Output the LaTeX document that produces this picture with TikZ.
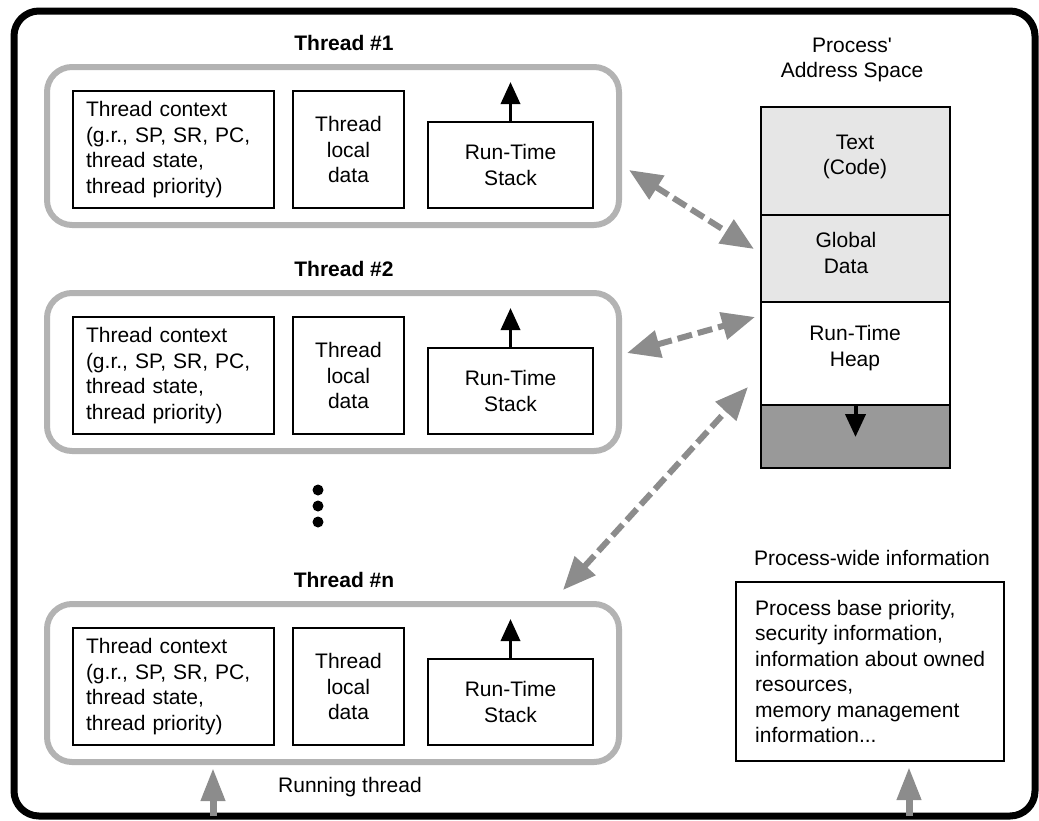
\documentclass[tikz,border=0pt]{standalone}
\usepackage{fontspec}
\setmainfont{Liberation Sans}
\usetikzlibrary{arrows.meta}

\definecolor{framegray}{HTML}{B3B3B3}
\definecolor{arrowgray}{HTML}{8C8C8C}
\definecolor{codegray}{HTML}{E6E6E6}
\definecolor{freegray}{HTML}{999999}

\tikzset{
  outerframe/.style={draw=black, line width=7pt, rounded corners=25pt, inner sep=0pt},
  threadbox/.style={draw=framegray, line width=6pt, rounded corners=25pt, inner sep=0pt},
  plainbox/.style={draw=black, line width=2pt, inner sep=0pt, align=center},
  ctxbox/.style={draw=black, line width=2pt, inner ysep=0pt, inner xsep=13pt,
    text width=175pt, align=left},
  segment/.style={draw=black, line width=2.5pt, inner sep=0pt,
    minimum width=189pt},
  titletext/.style={font=\fontsize{21}{25.5}\selectfont\bfseries},
  plaintext/.style={align=center, inner sep=0pt},
  growarrow/.style={draw=black, line width=3.5pt,
    -{Triangle[length=22pt, width=19pt]}},
  shareline/.style={draw=arrowgray, line width=6pt, dash pattern=on 15pt off 6pt,
    {Triangle[length=33pt, width=27pt]}-{Triangle[length=33pt, width=27pt]}},
  entryarrow/.style={draw=arrowgray, line width=7pt,
    -{Triangle[length=33pt, width=23pt]}},
  dotmark/.style={circle, fill=black, minimum size=11pt, inner sep=0pt},
}

% one thread: #1 name, #2 top edge of the grey frame, #3 title
\newcommand\threadunit[3]{%
  \node[threadbox, minimum width=572pt, minimum height=158pt] (#1) at (333,#2+79) {};
  \node[titletext] (#1title) at (344,#2-24) {#3};
  \node[ctxbox, minimum height=117pt] (#1ctx) at (173.5,#2+82.5)
    {Thread context\\(g.r., SP, SR, PC,\\thread state,\\thread priority)};
  \node[plainbox, minimum width=111pt, minimum height=117pt] (#1local) at (348.5,#2+82.5)
    {Thread\\local\\data};
  \node[plainbox, minimum width=165pt, minimum height=86pt] (#1stack) at (510.5,#2+98)
    {Run-Time\\Stack};
  \coordinate (#1grow) at (510.5,#2+15);
  \draw[growarrow] (#1stack.north) -- (#1grow);
}

\begin{document}
\begin{tikzpicture}[x=1pt, y=-1pt, font=\fontsize{21}{25.5}\selectfont]
  \useasboundingbox (0,0) rectangle (1039,820);

  % outer process frame
  \node[outerframe, minimum width=1021pt, minimum height=805pt] (frame) at (524.5,413.5) {};

  % threads
  \threadunit{thA}{67}{Thread \#1}
  \threadunit{thB}{293}{Thread \#2}
  \threadunit{thN}{604}{Thread \#n}

  % ellipsis between the threads
  \node[dotmark] (dotA) at (318,490) {};
  \node[dotmark] (dotB) at (318,506) {};
  \node[dotmark] (dotC) at (318,522) {};

  % address space column
  \node[plaintext] (astitle) at (852,60) {Process\textquotesingle\\Address Space};
  \node[segment, fill=codegray, minimum height=108pt] (codeseg) at (855.5,161) {};
  \node[segment, fill=codegray, minimum height=87pt] (dataseg) at (855.5,258.5) {};
  \node[segment, fill=white, minimum height=103pt] (heapseg) at (855.5,353.5) {};
  \node[segment, fill=freegray, minimum height=63pt] (freeseg) at (855.5,436.5) {};
  \node[plaintext] (codetxt) at (855,157) {Text\\(Code)};
  \node[plaintext] (datatxt) at (846,253) {Global\\Data};
  \node[plaintext] (heaptxt) at (855,348) {Run-Time\\Heap};
  \coordinate (heapgrow) at (855.5,437);
  \draw[growarrow, line width=4pt, -{Triangle[length=23pt, width=20pt]}]
    (heapseg.south) -- (heapgrow);

  % shared access between threads and address space
  \coordinate (shAs) at (629,170);  \coordinate (shAe) at (754,249);
  \coordinate (shBs) at (627,353);  \coordinate (shBe) at (755,317);
  \coordinate (shNs) at (563,590);  \coordinate (shNe) at (748,387);
  \draw[shareline] (shAs) -- (shAe);
  \draw[shareline] (shBs) -- (shBe);
  \draw[shareline] (shNs) -- (shNe);

  % process-wide information
  \node[plaintext] (pwtitle) at (872,558) {Process-wide information};
  \node[draw=black, line width=2pt, minimum width=268pt, minimum height=179pt,
    inner sep=0pt] (infobox) at (870,671.5) {};
  \node[align=left, inner sep=0pt, anchor=west] (infotext) at (755,671.5)
    {Process base priority,\\security information,\\information about owned\\resources,\\memory management\\information...};

  % running thread marker and entry arrows
  \node[plaintext] (runlabel) at (350,787) {Running thread};
  \coordinate (runbase) at (213,816);  \coordinate (runtip) at (213,768);
  \coordinate (infobase) at (909,816); \coordinate (infotip) at (909,767);
  \draw[entryarrow] (runbase) -- (runtip);
  \draw[entryarrow] (infobase) -- (infotip);
\end{tikzpicture}
\end{document}
